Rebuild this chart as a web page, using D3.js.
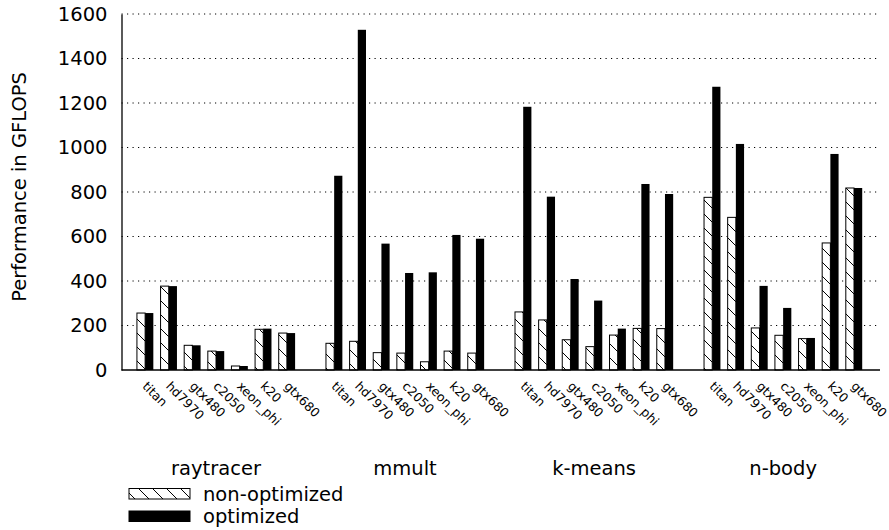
<!DOCTYPE html>
<html>
<head>
<meta charset="utf-8">
<script src="https://cdn.jsdelivr.net/npm/d3@7"></script>
<style>
  html, body { margin: 0; padding: 0; background: #fff; }
  svg { display: block; font-family: "DejaVu Sans", sans-serif; }
</style>
</head>
<body>
<svg id="chart" width="889" height="530"></svg>
<script>
// Benchmarks (clusters) and devices (bars inside each cluster)
const benchmarks = ["raytracer", "mmult", "k-means", "n-body"];
const devices = ["titan", "hd7970", "gtx480", "c2050", "xeon_phi", "k20", "gtx680"];

// GFLOPS per benchmark, in device order
const nonOptimized = [
  [256, 377, 111, 85, 18, 183, 166],
  [120, 129, 78, 76, 37, 85, 76],
  [261, 225, 136, 105, 157, 187, 186],
  [776, 686, 189, 156, 141, 571, 818]
];
const optimized = [
  [256, 377, 111, 85, 18, 186, 166],
  [873, 1529, 568, 436, 439, 607, 590],
  [1183, 779, 409, 312, 186, 836, 791],
  [1273, 1016, 378, 279, 144, 971, 818]
];

const yTicks = [0, 200, 400, 600, 800, 1000, 1200, 1400, 1600];
const seriesNames = ["non-optimized", "optimized"];

const svg = d3.select("#chart");

// Each cluster takes 8 slots: 7 devices plus one empty slot as a gap
const slotsPerGroup = devices.length + 1;
const x = d3.scaleLinear().domain([0, 32.1]).range([121.5, 880]);
const y = d3.scaleLinear().domain([0, 1600]).range([370, 14]);
const slotOf = (g, d) => g * slotsPerGroup + d + 1;
const barW = 0.347; // width of one bar in slot units

// Diagonal hatch for the non-optimized series
const defs = svg.append("defs");
const pat = defs.append("pattern")
  .attr("id", "hatch")
  .attr("patternUnits", "userSpaceOnUse")
  .attr("width", 14).attr("height", 14);
pat.append("rect").attr("width", 14).attr("height", 14).attr("fill", "#fff");
pat.append("path")
  .attr("d", "M0,0 L14,14 M-2,12 L2,16 M12,-2 L16,2")
  .attr("stroke", "#000").attr("stroke-width", 1);

// Dotted horizontal grid
svg.append("g")
  .selectAll("line")
  .data(yTicks.filter(t => t > 0))
  .join("line")
  .attr("x1", x(0)).attr("x2", x(32.1))
  .attr("y1", d => y(d)).attr("y2", d => y(d))
  .attr("stroke", "#000")
  .attr("stroke-width", 1)
  .attr("stroke-dasharray", "1.2,4.3");

// Bars
const rows = [];
benchmarks.forEach((b, g) => {
  devices.forEach((dev, d) => {
    rows.push({ g, d, s: slotOf(g, d), non: nonOptimized[g][d], opt: optimized[g][d] });
  });
});

const bars = svg.append("g");
bars.selectAll("rect.non")
  .data(rows)
  .join("rect")
  .attr("class", "non")
  .attr("x", r => x(r.s - barW))
  .attr("width", r => x(r.s) - x(r.s - barW))
  .attr("y", r => y(r.non))
  .attr("height", r => y(0) - y(r.non))
  .attr("fill", "url(#hatch)")
  .attr("stroke", "#000")
  .attr("stroke-width", 1);

bars.selectAll("rect.opt")
  .data(rows)
  .join("rect")
  .attr("class", "opt")
  .attr("x", r => x(r.s))
  .attr("width", r => x(r.s + barW) - x(r.s))
  .attr("y", r => y(r.opt))
  .attr("height", r => y(0) - y(r.opt))
  .attr("fill", "#000");

// Axes lines
const yAxis = d3.axisLeft(y).tickValues(yTicks).tickSize(0).tickPadding(14).tickFormat(d3.format("d"));
const yg = svg.append("g").attr("transform", `translate(${x(0)},0)`).call(yAxis);
yg.select(".domain").attr("stroke", "#000").attr("stroke-width", 1.3);
yg.selectAll("text").attr("font-size", 19.5).attr("fill", "#000").attr("font-family", "DejaVu Sans");

svg.append("line")
  .attr("x1", x(0)).attr("x2", x(32.1))
  .attr("y1", y(0)).attr("y2", y(0))
  .attr("stroke", "#000").attr("stroke-width", 1.3);

// Rotated device labels under each bar pair
svg.append("g")
  .selectAll("text")
  .data(rows)
  .join("text")
  .attr("transform", r => `translate(${x(r.s) - 3.5},387) rotate(45)`)
  .attr("font-size", 12.5)
  .attr("text-anchor", "start")
  .attr("fill", "#000")
  .text(r => devices[r.d]);

// Benchmark titles centred under each cluster
svg.append("g")
  .selectAll("text")
  .data(benchmarks)
  .join("text")
  .attr("x", (b, g) => x(g * slotsPerGroup + 4))
  .attr("y", 475)
  .attr("text-anchor", "middle")
  .attr("font-size", 19.5)
  .attr("fill", "#000")
  .text(b => b);

// Y axis title
svg.append("text")
  .attr("transform", "translate(26,187) rotate(-90)")
  .attr("text-anchor", "middle")
  .attr("font-size", 19.5)
  .attr("fill", "#000")
  .text("Performance in GFLOPS");

// Legend
const legend = svg.append("g");
const legendRows = [
  { name: seriesNames[0], fill: "url(#hatch)", y: 488.5 },
  { name: seriesNames[1], fill: "#000", y: 511 }
];
legend.selectAll("rect")
  .data(legendRows)
  .join("rect")
  .attr("x", 129).attr("width", 61)
  .attr("y", d => d.y).attr("height", 10.5)
  .attr("fill", d => d.fill)
  .attr("stroke", "#000").attr("stroke-width", 1);
legend.selectAll("text")
  .data(legendRows)
  .join("text")
  .attr("x", 203)
  .attr("y", d => d.y + 5.25)
  .attr("dy", "0.35em")
  .attr("font-size", 19.5)
  .attr("fill", "#000")
  .text(d => d.name);
</script>
</body>
</html>
